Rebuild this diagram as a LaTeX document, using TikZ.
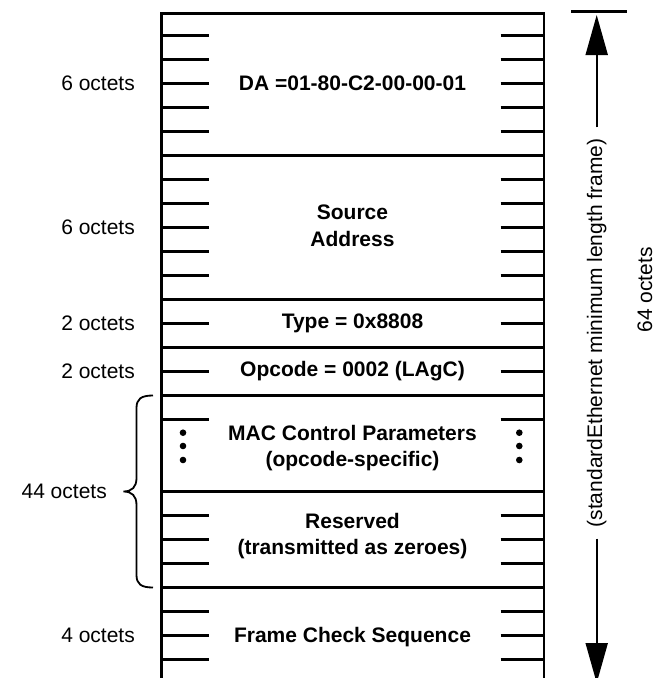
\documentclass[tikz,border=0pt]{standalone}
\usepackage{fontspec}
\setmainfont{Liberation Sans}
\usetikzlibrary{arrows.meta}
\begin{document}
\begin{tikzpicture}[x=1pt,y=-1pt,
  frameline/.style={line width=2.5pt},
  tick/.style={line width=2.5pt},
  lab/.style={font=\fontsize{21}{24}\selectfont, anchor=east, inner sep=0pt},
  fld/.style={font=\bfseries\fontsize{21}{26.5}\selectfont, align=center, inner sep=0pt},
  bigarrow/.style={line width=2pt, -{Triangle[length=40pt,width=22pt]}}]
\useasboundingbox (0,0) rectangle (660,678);
\begin{scope}
\clip (0,0) rectangle (660,678);
% outer frame sides and top
\draw[frameline] (161.5,690) -- (161.5,13.5) -- (544,13.5) -- (544,690);
% section separators
\foreach \y in {155.5,299.5,347.5,395.5,491.5,587.5}
  \draw[frameline] (161.5,\y) -- (544,\y);
% octet ticks
\foreach \k in {1,2,3,4,5,7,8,9,10,11,13,15,17,21,22,23,25,26,27} {
  \pgfmathsetmacro{\yy}{11.5+24*\k}
  \draw[tick] (161.5,\yy) -- (209,\yy);
  \draw[tick] (500.5,\yy) -- (544,\yy);
}
% dots
\foreach \y in {432.7,446,460} {
  \fill (183,\y) circle (3.3);
  \fill (519.3,\y) circle (3.3);
}
% right dimension arrow
\draw[line width=2.5pt] (571,11.7) -- (626.7,11.7);
\coordinate (atop) at (596.7,15);
\coordinate (abot) at (596.7,683);
\node[rotate=90, font=\fontsize{21}{24}\selectfont, inner xsep=11pt, inner ysep=0pt] (dim) at (596.7,333) {(standardEthernet minimum length frame)};
\draw[bigarrow] (dim.east) -- (atop);
\draw[bigarrow] (dim.west) -- (abot);
\end{scope}
\node[rotate=90, font=\fontsize{21}{24}\selectfont] (total) at (645,290) {64 octets};
% field texts
\node[fld] (da) at (352.5,83.5) {DA =01-80-C2-00-00-01};
\node[fld] (sa) at (352.5,226) {Source\\Address};
\node[fld] (type) at (352.5,323.5) {Type = 0x8808};
\node[fld] (opc) at (352.5,371.5) {Opcode = 0002 (LAgC)};
\node[fld] (mac) at (352.5,448) {MAC Control Parameters\\(opcode-specific)};
\node[fld] (res) at (352.5,536) {Reserved\\(transmitted as zeroes)};
\node[fld] (fcs) at (352.5,637) {Frame Check Sequence};
% left labels
\node[lab] (l1) at (135,83.5) {6 octets};
\node[lab] (l2) at (135,227.5) {6 octets};
\node[lab] (l3) at (135,323.5) {2 octets};
\node[lab] (l4) at (135,371.5) {2 octets};
\node[lab] (l5) at (107,491.5) {44 octets};
\node[lab] (l6) at (135,635.5) {4 octets};
% brace
\draw[line width=1.8pt] (153,395.5) .. controls (141,395.5) and (136.5,399) .. (136.5,408)
  -- (136.5,478) .. controls (136.5,487) and (132,491.5) .. (123.5,491.5)
  .. controls (132,491.5) and (136.5,496) .. (136.5,505)
  -- (136.5,575) .. controls (136.5,584) and (141,587.5) .. (153,587.5);
\end{tikzpicture}
\end{document}
